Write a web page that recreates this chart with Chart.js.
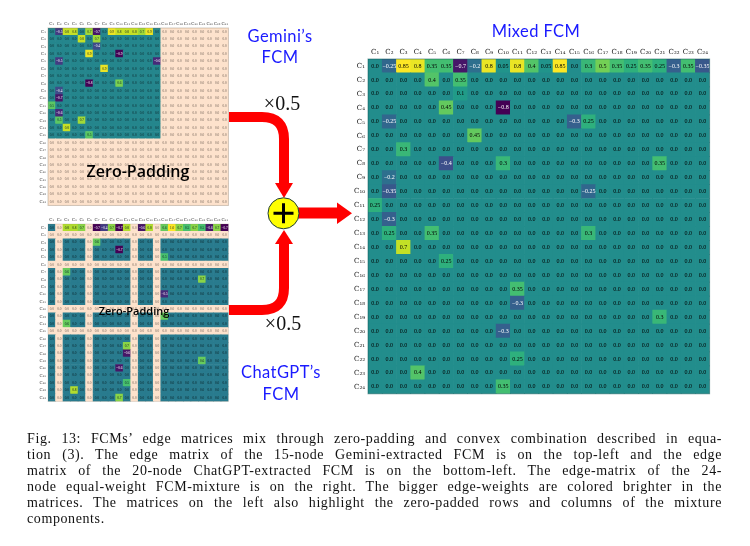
<!DOCTYPE html>
<html>
<head>
<meta charset="utf-8">
<title>FCM edge matrices</title>
<script src="https://cdn.jsdelivr.net/npm/chart.js@4"></script>
<style>
    html, body { margin: 0; padding: 0; background: #fff; }
    body { position: relative; width: 750px; height: 546px; overflow: hidden; }
    canvas { position: absolute; }
    svg { position: absolute; left: 0; top: 0; }
    .label { position: absolute; transform: translate(-50%, -50%); white-space: nowrap; }
    .blue { color: #1a1aff; font: 16.5px Lato, sans-serif; letter-spacing: 0.4px; }
    .weight { color: #111; font: 20px "Liberation Serif", serif; }
    .zero { color: #000; font-family: "Open Sans", sans-serif; font-weight: 600; }
    #caption { position: absolute; left: 27px; top: 431px; width: 695px; font: 14px/16px "Liberation Serif", serif; color: #111; letter-spacing: 0.6px; }
    #caption div { text-align: justify; text-align-last: justify; white-space: nowrap; height: 16px; }
    #caption div:last-child { text-align-last: left; }
</style>
</head>
<body>
<canvas id="geminiChart"></canvas>
<canvas id="chatgptChart"></canvas>
<canvas id="mixedChart"></canvas>

<svg width="750" height="546">
    <path d="M229 117 H262 Q284 117 284 139 V184" fill="none" stroke="#f00" stroke-width="10"/>
    <polygon points="275,183 293,183 284,198" fill="#f00"/>
    <path d="M229 310 H262 Q284 310 284 288 V243" fill="none" stroke="#f00" stroke-width="10"/>
    <polygon points="275,244 293,244 284,230" fill="#f00"/>
    <rect x="295" y="207.5" width="43" height="11" fill="#f00"/>
    <polygon points="337,202.5 337,224 352,213.3" fill="#f00"/>
    <circle cx="283.5" cy="213.3" r="15.5" fill="#ff0" stroke="#1c3b3b" stroke-width="1"/>
    <path d="M273.5 213.3 H293.5 M283.5 203.3 V223.3" stroke="#000" stroke-width="3"/>
</svg>

<div class="label blue" style="left:280px;top:36px">Gemini’s</div>
<div class="label blue" style="left:280px;top:57px">FCM</div>
<div class="label blue" style="left:281px;top:372px">ChatGPT’s</div>
<div class="label blue" style="left:281px;top:394px">FCM</div>
<div class="label blue" style="left:536px;top:31px">Mixed FCM</div>
<div class="label weight" style="left:282px;top:103px">×0.5</div>
<div class="label weight" style="left:283px;top:323px">×0.5</div>
<div class="label zero" style="left:138px;top:171px;font-size:16px">Zero-Padding</div>
<div class="label zero" style="left:134px;top:310px;font-size:11px">Zero-Padding</div>

<div id="caption">
    <div>Fig. 13: FCMs’ edge matrices mix through zero-padding and convex combination described in equa-</div>
    <div>tion (3). The edge matrix of the 15-node Gemini-extracted FCM is on the top-left and the edge</div>
    <div>matrix of the 20-node ChatGPT-extracted FCM is on the bottom-left. The edge-matrix of the 24-</div>
    <div>node equal-weight FCM-mixture is on the right. The bigger edge-weights are colored brighter in the</div>
    <div>matrices. The matrices on the left also highlight the zero-padded rows and columns of the mixture</div>
    <div>components.</div>
</div>

<script>
// ── Data ─────────────────────────────────────────────────

const nodes = ['C₁', 'C₂', 'C₃', 'C₄', 'C₅', 'C₆', 'C₇', 'C₈', 'C₉', 'C₁₀', 'C₁₁', 'C₁₂',
    'C₁₃', 'C₁₄', 'C₁₅', 'C₁₆', 'C₁₇', 'C₁₈', 'C₁₉', 'C₂₀', 'C₂₁', 'C₂₂', 'C₂₃', 'C₂₄'];

// non-zero edges as [from node, to node, weight], every other cell is 0.0
const geminiEdges = [
    [1, 2, -0.5], [1, 3, 0.8], [1, 4, 0.8], [1, 6, 0.7], [1, 7, -0.7], [1, 9, 0.9],
    [1, 10, 0.8], [1, 11, 0.8], [1, 12, 0.8], [1, 13, 0.7], [1, 14, 0.9],
    [2, 5, 0.8], [2, 7, 0.7], [3, 7, -0.4], [4, 6, 0.9], [4, 10, -0.9],
    [5, 2, -0.5], [5, 15, -0.6], [6, 8, 0.9], [8, 6, -0.8], [8, 10, 0.6],
    [9, 2, -0.4], [10, 2, -0.7], [11, 1, 0.5], [12, 2, -0.6],
    [13, 2, 0.5], [13, 5, 0.7], [14, 3, 0.8], [15, 6, 0.5]
];

const chatgptEdges = [
    [1, 3, 0.8], [1, 4, 0.8], [1, 5, 0.7], [1, 7, -0.7], [1, 8, -0.4], [1, 9, 0.7],
    [1, 10, -0.7], [1, 11, 0.8], [1, 13, -0.6], [1, 14, 0.8], [1, 16, 0.6], [1, 17, 1.0],
    [1, 18, 0.7], [1, 19, 0.5], [1, 20, 0.7], [1, 21, 0.5], [1, 22, -0.6], [1, 23, 0.7], [1, 24, -0.7],
    [3, 7, 0.6], [4, 10, -0.7], [5, 16, 0.5], [7, 3, 0.6], [8, 21, 0.7], [10, 16, -0.5],
    [13, 16, 0.6], [14, 3, 0.6], [17, 11, 0.7], [18, 11, -0.6], [19, 21, 0.6],
    [20, 10, -0.6], [22, 11, 0.5], [23, 4, 0.8], [24, 10, 0.7]
];

const mixedEdges = [
    [1, 2, -0.25], [1, 3, 0.85], [1, 4, 0.8], [1, 5, 0.35], [1, 6, 0.35], [1, 7, -0.7], [1, 8, -0.2],
    [1, 9, 0.8], [1, 10, 0.05], [1, 11, 0.8], [1, 12, 0.4], [1, 13, 0.05], [1, 14, 0.85], [1, 16, 0.3],
    [1, 17, 0.5], [1, 18, 0.35], [1, 19, 0.25], [1, 20, 0.35], [1, 21, 0.25], [1, 22, -0.3], [1, 23, 0.35], [1, 24, -0.35],
    [2, 5, 0.4], [2, 7, 0.35], [3, 7, 0.1], [4, 6, 0.45], [4, 10, -0.8],
    [5, 2, -0.25], [5, 15, -0.3], [5, 16, 0.25], [6, 8, 0.45], [7, 3, 0.3],
    [8, 6, -0.4], [8, 10, 0.3], [8, 21, 0.35], [9, 2, -0.2], [10, 2, -0.35], [10, 16, -0.25],
    [11, 1, 0.25], [12, 2, -0.3], [13, 2, 0.25], [13, 5, 0.35], [13, 16, 0.3],
    [14, 3, 0.7], [15, 6, 0.25], [17, 11, 0.35], [18, 11, -0.3], [19, 21, 0.3],
    [20, 10, -0.3], [22, 11, 0.25], [23, 4, 0.4], [24, 10, 0.35]
];

// nodes each source FCM does not have
const geminiPadded = [16, 17, 18, 19, 20, 21, 22, 23, 24];
const chatgptPadded = [2, 6, 12, 15];

// ── Colours ──────────────────────────────────────────────

const VIRIDIS = [[68, 1, 84], [72, 36, 117], [65, 68, 135], [53, 95, 141], [42, 120, 142],
    [33, 145, 140], [34, 168, 132], [68, 191, 112], [122, 209, 81], [189, 223, 38], [253, 231, 37]];
const PAD_COLOR = '#fde2cc';

function viridis(t) {
    const pos = Math.min(Math.max(t, 0), 1) * (VIRIDIS.length - 1);
    const i = Math.min(Math.floor(pos), VIRIDIS.length - 2);
    const c = VIRIDIS[i].map((v, k) => Math.round(v + (VIRIDIS[i + 1][k] - v) * (pos - i)));
    return `rgb(${c[0]}, ${c[1]}, ${c[2]})`;
}

// ── Matrix chart ─────────────────────────────────────────

function buildCells(edges, padded) {
    const cells = [];
    nodes.forEach((rowName, r) => {
        nodes.forEach((colName, c) => {
            const edge = edges.find(e => e[0] === r + 1 && e[1] === c + 1);
            cells.push({
                x: colName,
                y: [r - 0.5, r + 0.5],
                row: r,
                col: c,
                value: edge ? edge[2] : 0,
                pad: padded.includes(r + 1) || padded.includes(c + 1)
            });
        });
    });
    return cells;
}

function formatWeight(v) {
    const s = Number.isInteger(Math.round(v * 1000) / 100) ? Math.abs(v).toFixed(1) : Math.abs(v).toFixed(2);
    return (v < 0 ? '−' : '') + s;
}

const cellLabels = {
    id: 'cellLabels',
    afterDatasetsDraw(chart, args, opts) {
        const { ctx, scales } = chart;
        ctx.save();
        ctx.font = `${opts.size}px "Liberation Serif", serif`;
        ctx.textAlign = 'center';
        ctx.textBaseline = 'middle';
        chart.data.datasets[0].data.forEach(cell => {
            ctx.fillStyle = cell.pad ? '#6e5f55' : (cell.value < opts.whiteBelow ? '#fff' : opts.ink);
            ctx.fillText(formatWeight(cell.value), scales.x.getPixelForValue(cell.col), scales.y.getPixelForValue(cell.row));
        });
        const a = chart.chartArea;
        ctx.strokeStyle = opts.frame;
        ctx.lineWidth = 1;
        ctx.strokeRect(a.left, a.top, a.right - a.left, a.bottom - a.top);
        ctx.restore();
    }
};

function drawMatrix(id, edges, padded, box) {
    const canvas = document.getElementById(id);
    canvas.width = box.w + box.axis + 1;
    canvas.height = box.h + box.axisTop + 1;
    canvas.style.left = (box.x - box.axis) + 'px';
    canvas.style.top = (box.y - box.axisTop) + 'px';

    const cells = buildCells(edges, padded);
    const tickFont = { family: '"DejaVu Serif", serif', size: box.tickSize };

    return new Chart(canvas.getContext('2d'), {
        type: 'bar',
        data: {
            labels: nodes,
            datasets: [{
                data: cells,
                backgroundColor: cells.map(c => c.pad ? PAD_COLOR : viridis((c.value - box.vmin) / (box.vmax - box.vmin))),
                barPercentage: 1,
                categoryPercentage: 1,
                borderWidth: 0
            }]
        },
        options: {
            responsive: false,
            animation: false,
            devicePixelRatio: 1,
            layout: { padding: { right: 1, bottom: 1 } },
            plugins: {
                legend: { display: false },
                tooltip: { enabled: false },
                cellLabels: { size: box.cellSize, whiteBelow: box.whiteBelow, ink: box.ink, frame: box.frame }
            },
            scales: {
                x: {
                    position: 'top',
                    grid: { display: false, drawTicks: false },
                    border: { display: false },
                    ticks: { autoSkip: false, maxRotation: 0, padding: box.tickPad, color: box.tickColor, font: tickFont },
                    afterFit: s => { s.height = box.axisTop; }
                },
                y: {
                    reverse: true,
                    min: -0.5,
                    max: nodes.length - 0.5,
                    grid: { display: false, drawTicks: false },
                    border: { display: false },
                    afterBuildTicks: s => { s.ticks = nodes.map((n, i) => ({ value: i })); },
                    ticks: {
                        autoSkip: false,
                        padding: box.tickPad,
                        color: box.tickColor,
                        font: tickFont,
                        callback: v => nodes[v]
                    },
                    afterFit: s => { s.width = box.axis; }
                }
            }
        },
        plugins: [cellLabels]
    });
}

// ── Initialization ───────────────────────────────────────

drawMatrix('geminiChart', geminiEdges, geminiPadded, {
    x: 47.5, y: 27.5, w: 181.5, h: 181.5, axis: 17, axisTop: 9, tickSize: 4.2, tickPad: 2, tickColor: '#444',
    cellSize: 3.4, vmin: -0.8, vmax: 0.95, whiteBelow: -0.3, ink: '#0c2428', frame: 'rgba(130, 110, 90, 0.35)'
});
drawMatrix('chatgptChart', chatgptEdges, chatgptPadded, {
    x: 47.5, y: 223.5, w: 181.5, h: 181, axis: 17, axisTop: 9, tickSize: 4.2, tickPad: 2, tickColor: '#444',
    cellSize: 3.4, vmin: -0.7, vmax: 1, whiteBelow: -0.3, ink: '#081c20', frame: 'rgba(130, 110, 90, 0.2)'
});
drawMatrix('mixedChart', mixedEdges, [], {
    x: 367.6, y: 59, w: 342.2, h: 341.6, axis: 24, axisTop: 16, tickSize: 7, tickPad: 3, tickColor: '#111',
    cellSize: 6, vmin: -0.8, vmax: 0.85, whiteBelow: -0.15, ink: '#000', frame: 'rgba(10, 80, 80, 0.5)'
});
</script>
</body>
</html>
